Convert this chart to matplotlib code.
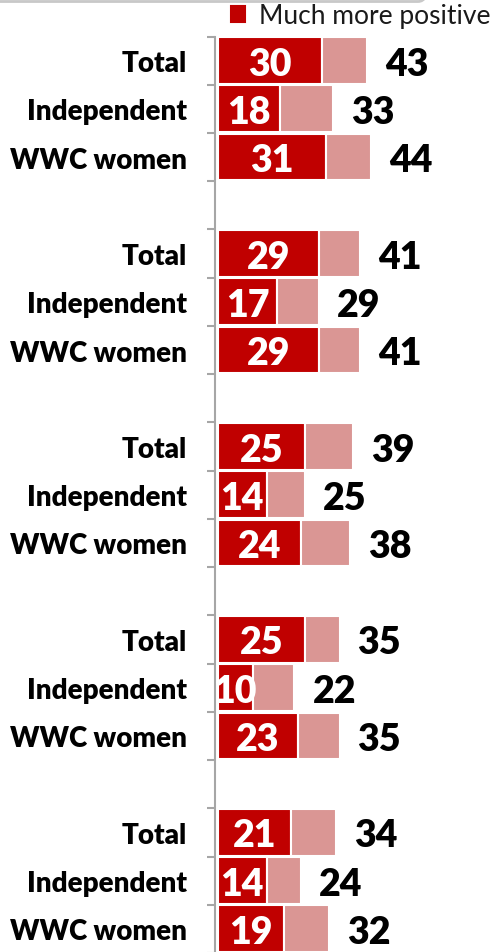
import matplotlib.pyplot as plt
from matplotlib.patches import FancyBboxPatch

# data
groups = 5
categories = ["Total", "Independent", "WWC women"]
much_more = [30, 18, 31,
             29, 17, 29,
             25, 14, 24,
             25, 10, 23,
             21, 14, 19]
total_positive = [43, 33, 44,
                  41, 29, 41,
                  39, 25, 38,
                  35, 22, 35,
                  34, 24, 32]
legend_label = "Much more positive"

RED = "#C00000"
PINK = "#DA9694"
GREY = "#A6A6A6"

plt.rcParams['font.family'] = ['Lato', 'DejaVu Sans']

fig = plt.figure(figsize=(4.94, 9.53), dpi=100)
ax = fig.add_axes([215 / 494, 1 - 954 / 953, 279 / 494, (954 - 37.5) / 953])

# slot positions: 3 bars + 1 empty slot per group
ypos = []
for g in range(groups):
    for r in range(len(categories)):
        ypos.append(g * 4 + r)
labels = categories * groups

rest = [t - m for t, m in zip(total_positive, much_more)]

red_bars = ax.barh(ypos, much_more, height=0.97, color=RED, edgecolor="white",
                   linewidth=1.5, label=legend_label)
ax.barh(ypos, rest, left=much_more, height=0.97, color=PINK, edgecolor="white",
        linewidth=1.5)

for y, m, t in zip(ypos, much_more, total_positive):
    ax.text(m / 2, y, str(m), ha="center", va="center_baseline", color="white",
            fontsize=27, fontweight="heavy")
    ax.annotate(str(t), xy=(t, y), xytext=(13, 0), textcoords="offset points",
                ha="left", va="center_baseline", color="black",
                fontsize=27, fontweight="heavy")

ax.set_xlim(-0.86, 79.5)
ax.set_ylim(18.5, -0.5)

# category labels on major ticks, boundary marks on minor ticks
ax.set_yticks(ypos)
ax.set_yticklabels(labels, fontsize=20, fontweight="heavy")
ax.tick_params(axis="y", which="major", length=0, pad=20)
ax.set_yticks([i - 0.5 for i in range(20)], minor=True)
ax.tick_params(axis="y", which="minor", length=5.5, width=1.5, color=GREY)

ax.set_xticks([])
for side in ["top", "right", "bottom"]:
    ax.spines[side].set_visible(False)
ax.spines["left"].set_color(GREY)
ax.spines["left"].set_linewidth(1.5)
ax.patch.set_visible(False)

leg = ax.legend(handles=[red_bars], loc="upper right", bbox_to_anchor=(1.0, 1.0),
                bbox_transform=fig.transFigure, frameon=False, fontsize=19,
                handlelength=0.55, handleheight=0.55, handletextpad=0.5,
                borderpad=0.1, borderaxespad=0.05)
for h in leg.legend_handles:
    h.set_edgecolor(RED)
for t in leg.get_texts():
    t.set_color("#1A1A1A")

# rounded frame edge cut off at the top
frame = FancyBboxPatch((-30 / 494, 1 - 2.5 / 953), 458 / 494, 0.1,
                       boxstyle="round,pad=0,rounding_size=0.02",
                       transform=fig.transFigure, facecolor="none",
                       edgecolor="#C8C8C8", linewidth=2)
fig.patches.append(frame)

fig.savefig("out.png", dpi=100)
